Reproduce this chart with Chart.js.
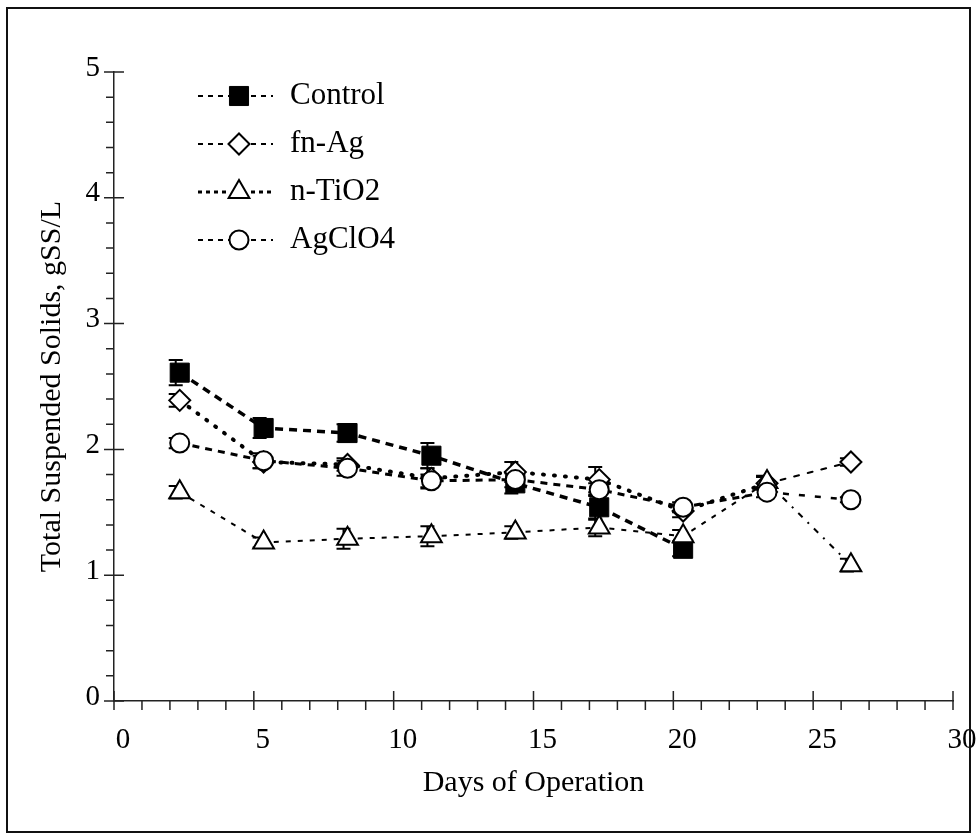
<!DOCTYPE html>
<html>
<head>
<meta charset="utf-8">
<title>Total Suspended Solids</title>
<script src="https://cdn.jsdelivr.net/npm/chart.js@4.4.1/dist/chart.umd.min.js"></script>
<style>
  html, body { margin: 0; padding: 0; background: #fff; }
  canvas { display: block; }
</style>
</head>
<body>
<canvas id="tss-chart" width="979" height="839"></canvas>
<script>
// Sampling days and TSS readings (gSS/L) per reactor
const days = [2.35, 5.35, 8.35, 11.35, 14.35, 17.35, 20.35, 23.35, 26.35];
const controlTSS = [2.61, 2.17, 2.13, 1.95, 1.73, 1.54, 1.21];
const fnAgTSS = [2.39, 1.90, 1.88, 1.77, 1.82, 1.76, 1.51, 1.73, 1.90];
const nTiO2TSS = [1.66, 1.26, 1.29, 1.31, 1.34, 1.38, 1.31, 1.74, 1.08];
const agClO4TSS = [2.05, 1.91, 1.85, 1.75, 1.76, 1.68, 1.54, 1.66, 1.60];

// standard deviations
const controlErr = [0.10, 0.08, 0.07, 0.10, 0.08, 0.10, 0.06];
const fnAgErr = [0.05, 0.05, 0.05, 0.08, 0.08, 0.10, 0.05, 0.05, 0.03];
const nTiO2Err = [0.05, 0.04, 0.08, 0.08, 0.05, 0.07, 0.05, 0.05, 0.05];
const agClO4Err = [0.04, 0.06, 0.06, 0.05, 0.06, 0.05, 0.04, 0.04, 0.02];

const xTicks = [0, 5, 10, 15, 20, 25, 30];
const yTicks = [0, 1, 2, 3, 4, 5];

const serif = "'Liberation Serif', 'Times New Roman', serif";
const ink = '#000';

const toPoints = (vals) => vals.map((v, i) => ({ x: days[i], y: v }));

// the last run (day 23 -> 26) was plotted with lighter strokes
const lastRun = (style) => (ctx) => (ctx.p0DataIndex === 7 ? style : undefined);

// error bars sit under the markers
const errorBars = {
  id: 'errorBars',
  beforeDatasetsDraw(chart) {
    const { ctx, scales: { x, y } } = chart;
    ctx.save();
    ctx.strokeStyle = ink;
    ctx.lineWidth = 2;
    chart.data.datasets.forEach((ds) => {
      ds.data.forEach((p, i) => {
        const e = ds.errors[i];
        if (p.y == null || e == null) return;
        const px = x.getPixelForValue(p.x) - 4;
        const hi = y.getPixelForValue(p.y + e);
        const lo = y.getPixelForValue(p.y - e);
        ctx.beginPath();
        ctx.moveTo(px, hi); ctx.lineTo(px, lo);
        ctx.moveTo(px - 7, hi); ctx.lineTo(px + 7, hi);
        ctx.moveTo(px - 7, lo); ctx.lineTo(px + 7, lo);
        ctx.stroke();
      });
    });
    ctx.restore();
  }
};

// crossing major ticks and one-sided minor ticks, plus outer frame
const axisMarks = {
  id: 'axisMarks',
  afterDraw(chart) {
    const { ctx, scales: { x, y } } = chart;
    const ax = x.left, ay = y.bottom;
    ctx.save();
    ctx.strokeStyle = '#222';
    ctx.lineWidth = 1.5;
    ctx.beginPath();
    for (let k = 0; k <= 25; k++) {
      const py = y.getPixelForValue(k / 5);
      const major = k % 5 === 0;
      ctx.moveTo(ax - (major ? 10 : 8), py);
      ctx.lineTo(ax + (major ? 10 : 0), py);
    }
    for (let d = 0; d <= 30; d++) {
      const px = x.getPixelForValue(d);
      const major = d % 5 === 0;
      ctx.moveTo(px, ay - (major ? 10 : 0));
      ctx.lineTo(px, ay + 9);
    }
    ctx.stroke();

    ctx.strokeStyle = '#111';
    ctx.lineWidth = 2;
    ctx.strokeRect(7, 8, 963, 824);
    ctx.restore();
  }
};

// line-marker-line legend in the upper left of the plot
const sampleLegend = {
  id: 'sampleLegend',
  afterDatasetsDraw(chart) {
    const { ctx } = chart;
    const left = 198, mid = 239, right = 273, textX = 290, top = 96, gap = 48;
    ctx.save();
    chart.data.datasets.forEach((ds, i) => {
      const rowY = top + gap * i;
      ctx.strokeStyle = ink;
      ctx.lineWidth = ds.legendWidth;
      ctx.setLineDash(ds.legendDash);
      ctx.beginPath();
      ctx.moveTo(left, rowY); ctx.lineTo(mid - 10, rowY);
      ctx.moveTo(mid + 12, rowY); ctx.lineTo(right, rowY);
      ctx.stroke();
      ctx.setLineDash([]);
      ctx.fillStyle = ds.pointBackgroundColor;
      ctx.strokeStyle = ds.pointBorderColor;
      ctx.lineWidth = ds.pointBorderWidth;
      Chart.helpers.drawPoint(ctx, {
        pointStyle: ds.pointStyle,
        radius: ds.pointRadius,
        borderWidth: ds.pointBorderWidth,
        rotation: 0
      }, mid, rowY);
      ctx.fillStyle = ink;
      ctx.font = `31px ${serif}`;
      ctx.textBaseline = 'middle';
      ctx.textAlign = 'left';
      ctx.fillText(ds.label, textX, rowY);
    });
    ctx.restore();
  }
};

new Chart(document.getElementById('tss-chart'), {
  type: 'line',
  data: {
    datasets: [
      {
        label: 'Control',
        data: toPoints(controlTSS),
        errors: controlErr,
        order: 4,
        borderColor: ink,
        borderWidth: 3.5,
        borderDash: [8, 6],
        pointStyle: 'rect',
        pointRadius: 13.5,
        pointBorderWidth: 1,
        pointBackgroundColor: ink,
        pointBorderColor: ink,
        legendWidth: 2,
        legendDash: [5, 5]
      },
      {
        label: 'fn-Ag',
        data: toPoints(fnAgTSS),
        errors: fnAgErr,
        order: 3,
        borderColor: ink,
        borderWidth: 4,
        borderDash: [1, 10],
        borderCapStyle: 'round',
        segment: {
          borderWidth: lastRun(2),
          borderDash: lastRun([5, 9])
        },
        pointStyle: 'rectRot',
        pointRadius: 10.5,
        pointBorderWidth: 2,
        pointBackgroundColor: '#fff',
        pointBorderColor: ink,
        legendWidth: 2,
        legendDash: [5, 5]
      },
      {
        label: 'n-TiO2',
        data: toPoints(nTiO2TSS),
        errors: nTiO2Err,
        order: 2,
        borderColor: ink,
        borderWidth: 2,
        borderDash: [5, 7],
        segment: {
          borderDash: lastRun([6, 7, 2, 7])
        },
        pointStyle: 'triangle',
        pointRadius: 12,
        pointBorderWidth: 2,
        pointBackgroundColor: '#fff',
        pointBorderColor: ink,
        legendWidth: 3,
        legendDash: [4, 4]
      },
      {
        label: 'AgClO4',
        data: toPoints(agClO4TSS),
        errors: agClO4Err,
        order: 1,
        borderColor: ink,
        borderWidth: 3,
        borderDash: [7, 6],
        segment: {
          borderWidth: lastRun(2.5),
          borderDash: lastRun([6, 10])
        },
        pointStyle: 'circle',
        pointRadius: 9.5,
        pointBorderWidth: 2,
        pointBackgroundColor: '#fff',
        pointBorderColor: ink,
        legendWidth: 2,
        legendDash: [5, 5]
      }
    ]
  },
  options: {
    responsive: false,
    animation: false,
    events: [],
    layout: { padding: { left: 0, top: 72, right: 26, bottom: 0 } },
    plugins: {
      legend: { display: false },
      tooltip: { enabled: false }
    },
    scales: {
      x: {
        type: 'linear',
        min: 0,
        max: 30,
        afterFit: (s) => { s.height = 138; s.paddingLeft = 0; s.paddingRight = 0; },
        afterBuildTicks: (s) => { s.ticks = xTicks.map((v) => ({ value: v })); },
        grid: { display: false, drawTicks: false },
        border: { display: true, color: '#222', width: 1.5 },
        ticks: {
          color: ink,
          font: { family: serif, size: 29 },
          padding: 22,
          labelOffset: 9,
          maxRotation: 0,
          autoSkip: false
        },
        title: {
          display: true,
          text: 'Days of Operation',
          color: ink,
          font: { family: serif, size: 30 },
          padding: { bottom: 38 }
        }
      },
      y: {
        min: 0,
        max: 5,
        afterFit: (s) => { s.width = 114; s.paddingTop = 0; s.paddingBottom = 0; },
        afterBuildTicks: (s) => { s.ticks = yTicks.map((v) => ({ value: v })); },
        grid: { display: false, drawTicks: false },
        border: { display: true, color: '#222', width: 1.5 },
        ticks: {
          color: ink,
          font: { family: serif, size: 29 },
          padding: 14,
          labelOffset: -4,
          autoSkip: false
        },
        title: {
          display: true,
          text: 'Total Suspended Solids, gSS/L',
          color: ink,
          font: { family: serif, size: 30 },
          padding: { top: 34 }
        }
      }
    }
  },
  plugins: [errorBars, axisMarks, sampleLegend]
});
</script>
</body>
</html>
